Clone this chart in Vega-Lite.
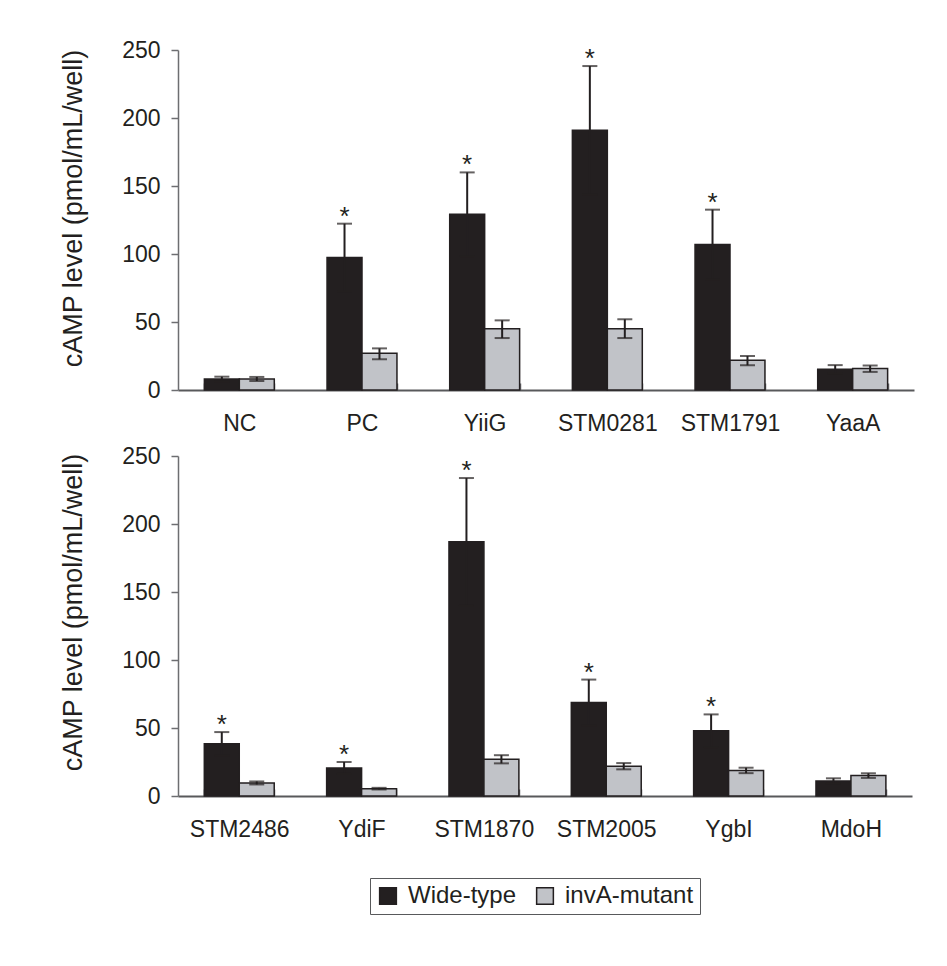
{
  "$schema": "https://vega.github.io/schema/vega-lite/v6.json",
  "background": "white",
  "padding": {"left": 59, "top": 39, "right": 30, "bottom": 50},
  "config": {
    "font": "Liberation Sans",
    "view": {"stroke": null},
    "axis": {
      "labelFont": "Liberation Sans",
      "titleFont": "Liberation Sans",
      "labelColor": "#231f20",
      "titleColor": "#231f20",
      "grid": false,
      "domainColor": "#6d6e71",
      "tickColor": "#6d6e71",
      "domainWidth": 1.5,
      "tickWidth": 1.5,
      "labelFontSize": 23,
      "titleFontSize": 27,
      "titleFontWeight": "normal"
    },
    "legend": {"labelFont": "Liberation Sans"}
  },
  "datasets": {
    "top": [
      {"gene": "NC", "strain": "Wide-type", "level": 8, "lo": 6.5, "hi": 9.8, "sig": ""},
      {"gene": "NC", "strain": "invA-mutant", "level": 8, "lo": 6.6, "hi": 9.6, "sig": ""},
      {"gene": "PC", "strain": "Wide-type", "level": 97.4, "lo": 72.5, "hi": 122.3, "sig": "*"},
      {"gene": "PC", "strain": "invA-mutant", "level": 27, "lo": 22.6, "hi": 30.6, "sig": ""},
      {"gene": "YiiG", "strain": "Wide-type", "level": 129.2, "lo": 98.5, "hi": 160, "sig": "*"},
      {"gene": "YiiG", "strain": "invA-mutant", "level": 45, "lo": 38.2, "hi": 51.2, "sig": ""},
      {"gene": "STM0281", "strain": "Wide-type", "level": 191, "lo": 144, "hi": 238.2, "sig": "*"},
      {"gene": "STM0281", "strain": "invA-mutant", "level": 45, "lo": 38.2, "hi": 52, "sig": ""},
      {"gene": "STM1791", "strain": "Wide-type", "level": 107, "lo": 81.5, "hi": 132.6, "sig": "*"},
      {"gene": "STM1791", "strain": "invA-mutant", "level": 21.8, "lo": 18.2, "hi": 25, "sig": ""},
      {"gene": "YaaA", "strain": "Wide-type", "level": 15.2, "lo": 12, "hi": 18.3, "sig": ""},
      {"gene": "YaaA", "strain": "invA-mutant", "level": 15.8, "lo": 13.3, "hi": 18, "sig": ""}
    ],
    "bottom": [
      {"gene": "STM2486", "strain": "Wide-type", "level": 38.5, "lo": 30, "hi": 47, "sig": "*"},
      {"gene": "STM2486", "strain": "invA-mutant", "level": 9.6, "lo": 8.5, "hi": 10.7, "sig": ""},
      {"gene": "YdiF", "strain": "Wide-type", "level": 20.6, "lo": 16.2, "hi": 25, "sig": "*"},
      {"gene": "YdiF", "strain": "invA-mutant", "level": 5.4, "lo": 4.8, "hi": 6, "sig": ""},
      {"gene": "STM1870", "strain": "Wide-type", "level": 187, "lo": 140, "hi": 233.8, "sig": "*"},
      {"gene": "STM1870", "strain": "invA-mutant", "level": 27, "lo": 24, "hi": 30, "sig": ""},
      {"gene": "STM2005", "strain": "Wide-type", "level": 68.7, "lo": 52, "hi": 85.6, "sig": "*"},
      {"gene": "STM2005", "strain": "invA-mutant", "level": 21.8, "lo": 19.6, "hi": 24.2, "sig": ""},
      {"gene": "YgbI", "strain": "Wide-type", "level": 48, "lo": 36, "hi": 60, "sig": "*"},
      {"gene": "YgbI", "strain": "invA-mutant", "level": 18.8, "lo": 16.8, "hi": 20.8, "sig": ""},
      {"gene": "MdoH", "strain": "Wide-type", "level": 11, "lo": 9, "hi": 13, "sig": ""},
      {"gene": "MdoH", "strain": "invA-mutant", "level": 15, "lo": 13.3, "hi": 16.7, "sig": ""}
    ]
  },
  "spacing": 66,
  "bounds": "flush",
  "vconcat": [
    {
      "width": 736,
      "height": 340,
      "data": {"name": "top"},
      "encoding": {
        "x": {"field": "gene", "type": "nominal", "sort": null, "title": null,
          "scale": {"paddingInner": 0.43, "paddingOuter": 0.215},
          "axis": {"labelAngle": 0, "tickBand": "extent", "tickSize": -7, "labelPadding": 29, "domainColor": "#58595b", "domainWidth": 2}},
        "xOffset": {"field": "strain", "type": "nominal", "sort": ["Wide-type", "invA-mutant"], "scale": {"paddingInner": 0, "paddingOuter": 0}}
      },
      "layer": [
        {
          "mark": {"type": "bar", "stroke": "#231f20", "strokeWidth": 1.5},
          "encoding": {
            "y": {"field": "level", "type": "quantitative", "title": "cAMP level (pmol/mL/well)",
              "scale": {"domain": [0, 250], "nice": false},
              "axis": {"values": [0, 50, 100, 150, 200, 250], "tickSize": 7, "labelPadding": 11, "titlePadding": 34, "titleY": 158}},
            "color": {"field": "strain", "type": "nominal",
              "scale": {"domain": ["Wide-type", "invA-mutant"], "range": ["#231f20", "#c1c3c8"]},
              "legend": {"title": null, "orient": "none", "legendX": 192, "legendY": 828, "direction": "horizontal",
                "symbolType": "square", "symbolSize": 280, "symbolStrokeColor": "#231f20", "symbolStrokeWidth": 1.5,
                "labelFontSize": 24, "labelColor": "#231f20", "strokeColor": "#58595b", "padding": 6,
                "columnPadding": 16, "labelOffset": 8}}
          }
        },
        {
          "mark": {"type": "rule", "color": "#231f20", "strokeWidth": 2},
          "encoding": {"y": {"field": "lo", "type": "quantitative", "title": "cAMP level (pmol/mL/well)"}, "y2": {"field": "hi"}}
        },
        {
          "mark": {"type": "tick", "color": "#231f20", "thickness": 2, "size": 15},
          "encoding": {"y": {"field": "lo", "type": "quantitative", "title": "cAMP level (pmol/mL/well)"}}
        },
        {
          "mark": {"type": "tick", "color": "#231f20", "thickness": 2, "size": 15},
          "encoding": {"y": {"field": "hi", "type": "quantitative", "title": "cAMP level (pmol/mL/well)"}}
        },
        {
          "mark": {"type": "text", "fontSize": 26, "baseline": "alphabetic", "dy": 1, "color": "#231f20"},
          "encoding": {"y": {"field": "hi", "type": "quantitative", "title": "cAMP level (pmol/mL/well)"}, "text": {"field": "sig"}}
        }
      ]
    },
    {
      "width": 734,
      "height": 340,
      "data": {"name": "bottom"},
      "encoding": {
        "x": {"field": "gene", "type": "nominal", "sort": null, "title": null,
          "scale": {"paddingInner": 0.43, "paddingOuter": 0.215},
          "axis": {"labelAngle": 0, "tickBand": "extent", "tickSize": -7, "labelPadding": 29, "domainColor": "#58595b", "domainWidth": 2}},
        "xOffset": {"field": "strain", "type": "nominal", "sort": ["Wide-type", "invA-mutant"], "scale": {"paddingInner": 0, "paddingOuter": 0}}
      },
      "layer": [
        {
          "mark": {"type": "bar", "stroke": "#231f20", "strokeWidth": 1.5},
          "encoding": {
            "y": {"field": "level", "type": "quantitative", "title": "cAMP level (pmol/mL/well)",
              "scale": {"domain": [0, 250], "nice": false},
              "axis": {"values": [0, 50, 100, 150, 200, 250], "tickSize": 7, "labelPadding": 11, "titlePadding": 34, "titleY": 156}},
            "color": {"field": "strain", "type": "nominal",
              "scale": {"domain": ["Wide-type", "invA-mutant"], "range": ["#231f20", "#c1c3c8"]}}
          }
        },
        {
          "mark": {"type": "rule", "color": "#231f20", "strokeWidth": 2},
          "encoding": {"y": {"field": "lo", "type": "quantitative", "title": "cAMP level (pmol/mL/well)"}, "y2": {"field": "hi"}}
        },
        {
          "mark": {"type": "tick", "color": "#231f20", "thickness": 2, "size": 15},
          "encoding": {"y": {"field": "lo", "type": "quantitative", "title": "cAMP level (pmol/mL/well)"}}
        },
        {
          "mark": {"type": "tick", "color": "#231f20", "thickness": 2, "size": 15},
          "encoding": {"y": {"field": "hi", "type": "quantitative", "title": "cAMP level (pmol/mL/well)"}}
        },
        {
          "mark": {"type": "text", "fontSize": 26, "baseline": "alphabetic", "dy": 1, "color": "#231f20"},
          "encoding": {"y": {"field": "hi", "type": "quantitative", "title": "cAMP level (pmol/mL/well)"}, "text": {"field": "sig"}}
        }
      ]
    }
  ]
}
